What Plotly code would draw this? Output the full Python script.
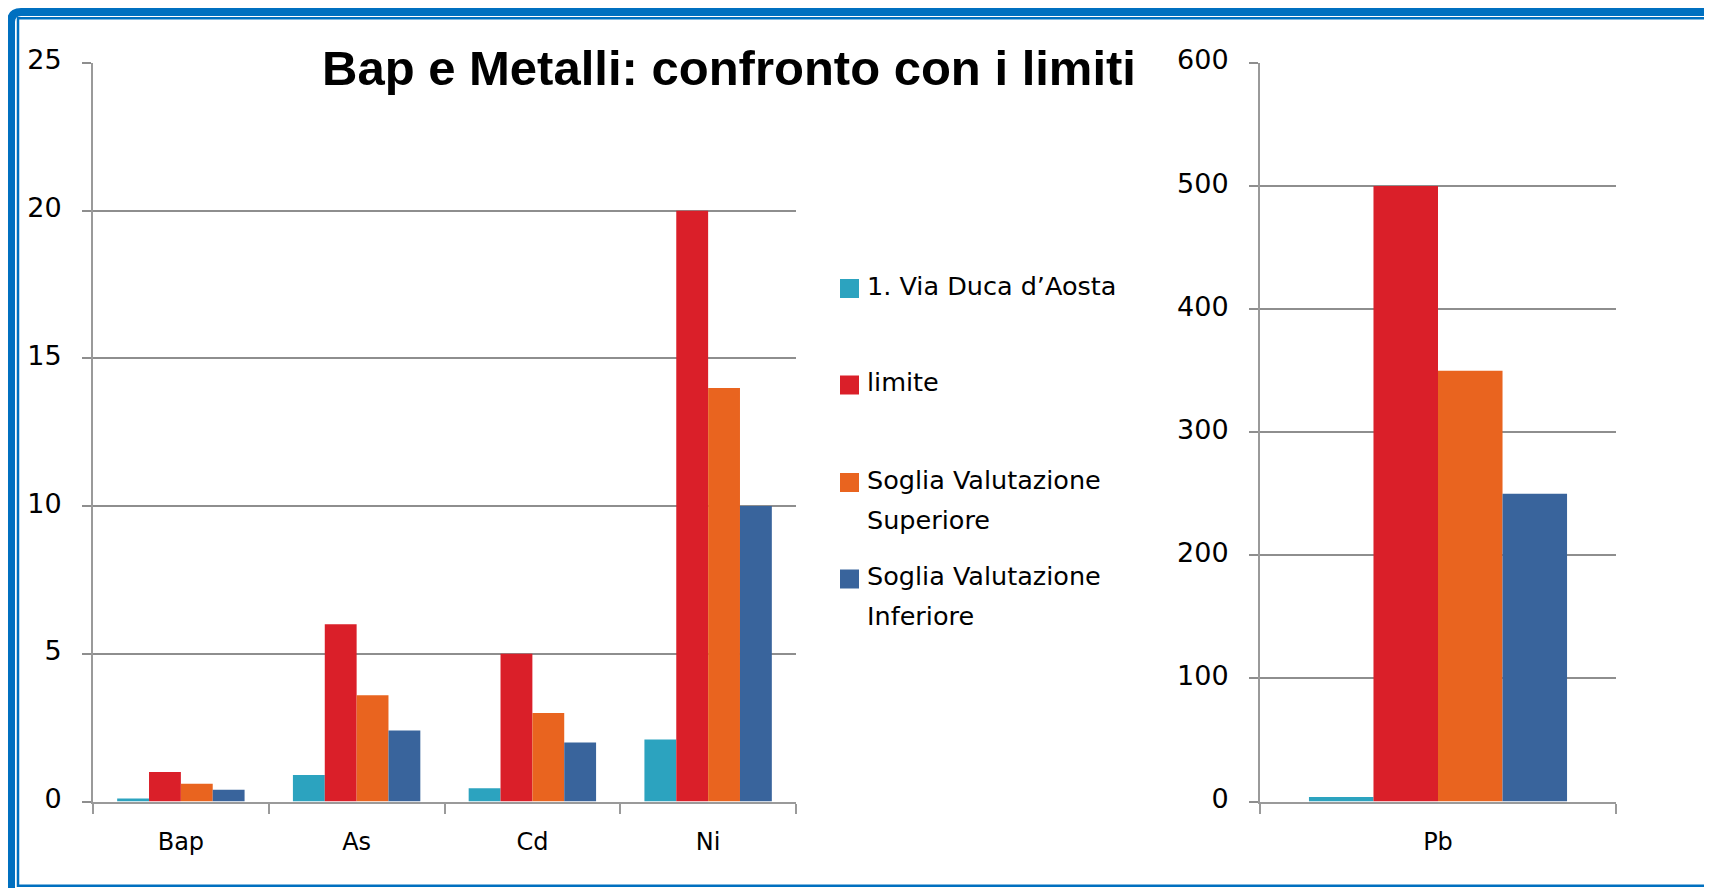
import plotly.graph_objects as go

W, H = 1712, 888
OFF = 8  # default page margin of the html body

# ---------------- data ----------------
categories = ["Bap", "As", "Cd", "Ni"]
categories_pb = ["Pb"]
series_names = ["1. Via Duca d’Aosta", "limite",
                "Soglia Valutazione Superiore", "Soglia Valutazione Inferiore"]
legend_lines = [["1. Via Duca d’Aosta"], ["limite"],
                ["Soglia Valutazione", "Superiore"], ["Soglia Valutazione", "Inferiore"]]
via_duca = [0.1, 0.9, 0.45, 2.1]
limite = [1, 6, 5, 20]
soglia_sup = [0.6, 3.6, 3, 14]
soglia_inf = [0.4, 2.4, 2, 10]
pb_via_duca = [3.7]
pb_limite = [500]
pb_soglia_sup = [350]
pb_soglia_inf = [250]
left_ticks = [0, 5, 10, 15, 20, 25]
right_ticks = [0, 100, 200, 300, 400, 500, 600]
colors = ["#2CA3BF", "#DA1F29", "#E9641F", "#39649C"]
title_text = "Bap e Metalli: confronto con i limiti"

left_series = [via_duca, limite, soglia_sup, soglia_inf]
right_series = [pb_via_duca, pb_limite, pb_soglia_sup, pb_soglia_inf]


def fx(px):
    return (px - OFF) / W


def fy(py):
    return 1 - (py - OFF) / H


fig = go.Figure()
for name, vals, col in zip(series_names, left_series, colors):
    fig.add_trace(go.Bar(x=categories, y=vals, name=name, marker_color=col,
                         marker_line_width=0, xaxis="x", yaxis="y", showlegend=False))
for name, vals, col in zip(series_names, right_series, colors):
    fig.add_trace(go.Bar(x=categories_pb, y=vals, name=name, marker_color=col,
                         marker_line_width=0, xaxis="x2", yaxis="y2", showlegend=False))

GRID = "#8e8e8e"
AXL = "#9a9a9a"
TICKFONT = dict(family="DejaVu Sans", size=27, color="#000000")

common_x = dict(type="category", showline=True, linecolor=AXL, linewidth=2,
                ticks="outside", tickson="boundaries", ticklen=10, tickcolor=AXL,
                tickwidth=2, showgrid=False, automargin=False,
                tickfont=dict(family="DejaVu Sans", size=24, color="#000"),
                ticklabelstandoff=18, fixedrange=True)
common_y = dict(showline=True, linecolor=AXL, linewidth=2, ticks="outside", ticklen=9,
                tickcolor=GRID, tickwidth=2, showgrid=True, gridcolor=GRID, gridwidth=1.6,
                zeroline=False, tickfont=TICKFONT, ticklabelstandoff=15,
                ticklabelshift=-3, automargin=False, fixedrange=True)

fig.update_layout(
    width=W, height=H,
    margin=dict(l=0, r=0, t=0, b=0, pad=0, autoexpand=False),
    paper_bgcolor="white", plot_bgcolor="white",
    barmode="group", bargap=0.275, bargroupgap=0,
    xaxis=dict(domain=[fx(93), fx(796)], anchor="y", **common_x),
    yaxis=dict(domain=[fy(801.5), fy(63)], anchor="x", range=[0, 25],
               tickvals=left_ticks, **common_y),
    xaxis2=dict(domain=[fx(1260), fx(1616)], anchor="y2", **common_x),
    yaxis2=dict(domain=[fy(801.5), fy(63)], anchor="x2", range=[0, 600],
                tickvals=right_ticks, **common_y),
)

shapes = []
annotations = []

# white box behind the title (interrupts top gridline)
shapes.append(dict(type="rect", xref="paper", yref="paper", layer="above",
                   x0=fx(313), x1=fx(805), y0=fy(74), y1=fy(54),
                   line_width=0, fillcolor="white"))
annotations.append(dict(text="<b>" + title_text + "</b>", xref="paper", yref="paper",
                        x=fx(320), y=fy(68), xanchor="left", yanchor="middle",
                        showarrow=False,
                        font=dict(family="Liberation Sans", size=49, color="#000")))

# manual legend
legend_y = [288.5, 385, 482.5, 579]
for lines, col, yc in zip(legend_lines, colors, legend_y):
    shapes.append(dict(type="rect", xref="paper", yref="paper", layer="above",
                       x0=fx(840), x1=fx(859), y0=fy(yc + 9.5), y1=fy(yc - 9.5),
                       line_width=0, fillcolor=col))
    for k, ln in enumerate(lines):
        annotations.append(dict(text=ln, xref="paper", yref="paper",
                                x=fx(865), y=fy(yc - 3 + 40 * k), xanchor="left",
                                yanchor="middle", showarrow=False,
                                font=dict(family="DejaVu Sans", size=25.5, color="#000")))

# blue frame
BLUE = "#0070C0"
shapes.append(dict(type="path", xref="paper", yref="paper", layer="above",
                   path=(f"M {fx(11)},{fy(H + 30)} L {fx(11)},{fy(22)} "
                         f"Q {fx(11)},{fy(12)} {fx(21)},{fy(12)} L {fx(W + 30)},{fy(12)}"),
                   line=dict(color=BLUE, width=8)))
shapes.append(dict(type="rect", xref="paper", yref="paper", layer="above",
                   x0=fx(18), x1=fx(W + 30), y0=fy(885.8), y1=fy(18.3),
                   line=dict(color=BLUE, width=2.5), fillcolor="rgba(0,0,0,0)"))

fig.update_layout(shapes=shapes, annotations=annotations)

fig.write_html("out.html", config={"displayModeBar": False})
